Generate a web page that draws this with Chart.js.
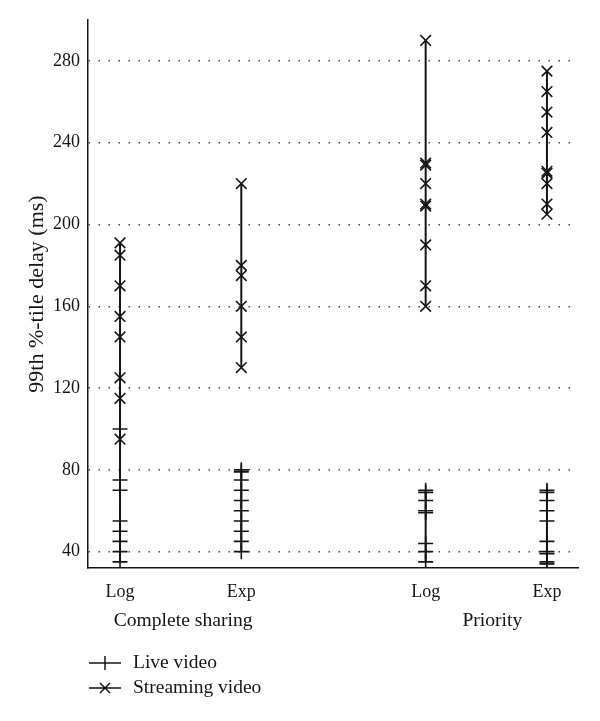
<!DOCTYPE html>
<html><head><meta charset="utf-8">
<script src="https://cdn.jsdelivr.net/npm/chart.js@4/dist/chart.umd.min.js"></script>
<style>html,body{margin:0;padding:0;background:#fff}#wrap{width:600px;height:721px;position:relative}</style>
</head><body><div id="wrap"><canvas id="c" width="600" height="721"></canvas></div>
<script>
// ---- data ----
const categories = ['Log', 'Exp', 'Log', 'Exp'];
const groups = ['Complete sharing', 'Priority'];
const yTicks = [40, 80, 120, 160, 200, 240, 280];
const seriesNames = ['Live video', 'Streaming video'];

const liveCompleteLog = [100, 75, 70, 55, 50, 45, 40, 35];
const liveCompleteExp = [80, 79, 75, 70, 65, 60, 55, 50, 45, 40];
const livePriorityLog = [70, 69, 65, 60, 59, 44, 40, 35];
const livePriorityExp = [70, 69, 65, 60, 55, 45, 40, 39, 35, 34];

const streamCompleteLog = [191, 185, 170, 155, 145, 125, 115, 95];
const streamCompleteExp = [220, 180, 175, 160, 145, 130];
const streamPriorityLog = [290, 230, 229, 220, 210, 209, 190, 170, 160];
const streamPriorityExp = [275, 265, 255, 245, 226, 225, 220, 210, 205];

// ---- layout ----
const slot = [1, 2, 3.52, 4.52];          // x slot of each category
const groupSlot = [1.52, 4.07];           // x slot of each group caption
const ink = '#151515';
const FONT = "'Liberation Serif', 'Times New Roman', serif";

function build(lists) {
  const pts = [];
  lists.forEach((vals, i) => {
    vals.forEach(v => pts.push({x: slot[i], y: v}));
    pts.push({x: slot[i], y: null});
  });
  return pts;
}

const liveData = build([liveCompleteLog, liveCompleteExp, livePriorityLog, livePriorityExp]);
const streamData = build([streamCompleteLog, streamCompleteExp, streamPriorityLog, streamPriorityExp]);

const legendPlugin = {
  id: 'stackLegend',
  afterDraw(chart) {
    const c = chart.ctx;
    chart.data.datasets.forEach((ds, i) => {
      const y = 663 + i * 25;
      c.save();
      c.strokeStyle = ink;
      c.lineWidth = 1.5;
      c.beginPath();
      c.moveTo(89, y); c.lineTo(121, y);
      if (ds.pointStyle === 'cross') {
        c.moveTo(105, y - 7); c.lineTo(105, y + 7);
      } else {
        c.moveTo(100, y - 5); c.lineTo(110, y + 5);
        c.moveTo(110, y - 5); c.lineTo(100, y + 5);
      }
      c.stroke();
      c.fillStyle = ink;
      c.font = '19.5px ' + FONT;
      c.textBaseline = 'middle';
      c.textAlign = 'left';
      c.fillText(ds.label, 133, y);
      c.restore();
    });
  }
};

new Chart(document.getElementById('c'), {
  type: 'scatter',
  data: {
    datasets: [
      {label: seriesNames[0], data: liveData, showLine: true, spanGaps: false,
       borderColor: ink, borderWidth: 2, pointStyle: 'cross', pointRadius: 7.5,
       pointBorderWidth: 1.6, pointBorderColor: ink, pointBackgroundColor: ink},
      {label: seriesNames[1], data: streamData, showLine: true, spanGaps: false,
       borderColor: ink, borderWidth: 2, pointStyle: 'crossRot', pointRadius: 7.5,
       pointBorderWidth: 1.6, pointBorderColor: ink, pointBackgroundColor: ink}
    ]
  },
  options: {
    responsive: false,
    animation: false,
    layout: {padding: {top: 20, right: 22, left: 0, bottom: 86}},
    plugins: {legend: {display: false}, tooltip: {enabled: false}},
    scales: {
      x: {
        type: 'linear', position: 'bottom', min: 0.736, max: 4.776, weight: 0,
        afterBuildTicks: s => { s.ticks = slot.map(v => ({value: v})); },
        afterFit: s => { s.height = 36; },
        grid: {display: false, drawTicks: false},
        border: {display: true, color: ink, width: 1.5},
        ticks: {padding: 13, color: ink, font: {family: FONT, size: 18},
                maxRotation: 0, autoSkip: false,
                callback: (v, i) => categories[i]}
      },
      x2: {
        type: 'linear', position: 'bottom', min: 0.736, max: 4.776, weight: 1,
        afterBuildTicks: s => { s.ticks = groupSlot.map(v => ({value: v})); },
        afterFit: s => { s.height = 31; },
        grid: {display: false, drawTicks: false},
        border: {display: false},
        ticks: {padding: 5, color: ink, font: {family: FONT, size: 19.6},
                maxRotation: 0, autoSkip: false,
                callback: (v, i) => groups[i]}
      },
      y: {
        type: 'linear', min: 32, max: 300,
        afterBuildTicks: s => { s.ticks = yTicks.map(v => ({value: v})); },
        afterFit: s => { s.width = 88; },
        grid: {display: true, drawTicks: false, color: '#4a4a4a', lineWidth: 1.5},
        border: {display: true, color: ink, width: 1.5, dash: [1.5, 8.5]},
        ticks: {padding: 8, color: ink, font: {family: FONT, size: 18}},
        title: {display: true, text: '99th %-tile delay (ms)', color: ink,
                font: {family: FONT, size: 22}, padding: {top: 24, bottom: 0}}
      }
    }
  },
  plugins: [legendPlugin]
});
</script></body></html>
